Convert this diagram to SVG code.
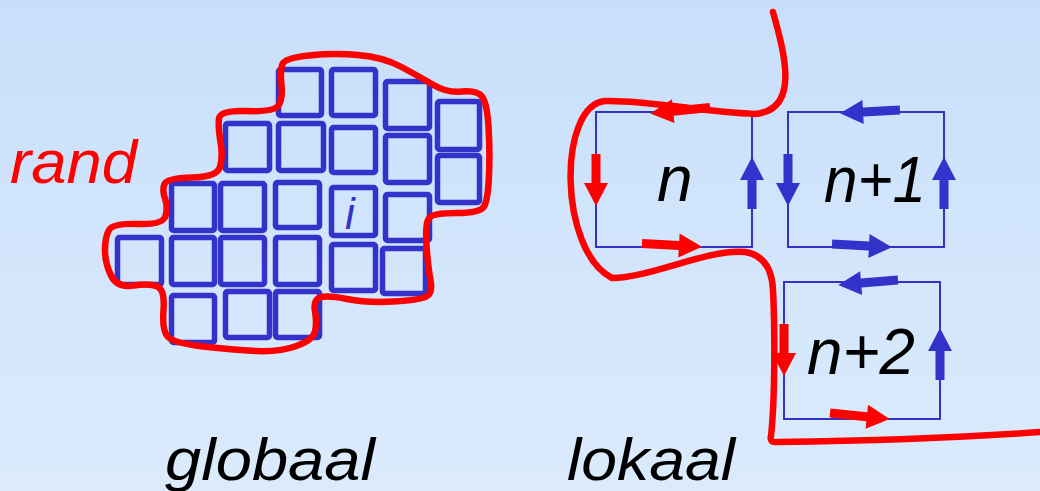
<svg xmlns="http://www.w3.org/2000/svg" xmlns:xlink="http://www.w3.org/1999/xlink" width="1040" height="491" viewBox="0 0 1040 491">
<defs>
<linearGradient id="bg" x1="0" y1="0" x2="0" y2="1">
<stop offset="0" stop-color="#c8dffb"/>
<stop offset="1" stop-color="#dbebfc"/>
</linearGradient>
<path id="ah" d="M0,-4.5 H37 V-12 L60,0 L37,12 V4.5 H0 Z"/>
<path id="av" d="M0,-4.5 H29 V-12 L52,0 L29,12 V4.5 H0 Z"/>
<style>
.sq{fill:none;stroke:#3333cc;stroke-width:5.5;}
.box{fill:none;stroke:#3333cc;stroke-width:2;}
.red{fill:none;stroke:#ff0000;stroke-width:6.5;stroke-linecap:round;stroke-linejoin:round;}
.ar{fill:#ff0000;}
.ab{fill:#3333cc;}
.t{font-family:"Liberation Sans",Arial,sans-serif;font-style:italic;}
</style>
</defs>
<rect width="1040" height="491" fill="url(#bg)"/>

<g id="grid">
<rect class="sq" x="278.5" y="69.5" width="43" height="46" rx="2"/>
<rect class="sq" x="331.5" y="69.5" width="44" height="46" rx="2"/>
<rect class="sq" x="385.5" y="81.5" width="44" height="47" rx="2"/>
<rect class="sq" x="437.5" y="101.5" width="42" height="48" rx="2"/>
<rect class="sq" x="225.5" y="123.5" width="44" height="47" rx="2"/>
<rect class="sq" x="278.5" y="123.5" width="45" height="47" rx="2"/>
<rect class="sq" x="331.5" y="127.5" width="44" height="45" rx="2"/>
<rect class="sq" x="385.5" y="135.5" width="44" height="47" rx="2"/>
<rect class="sq" x="437.5" y="155.5" width="42" height="47" rx="2"/>
<rect class="sq" x="171.5" y="183.5" width="43" height="47" rx="2"/>
<rect class="sq" x="220.5" y="183.5" width="44" height="47" rx="2"/>
<rect class="sq" x="275.5" y="182.5" width="44" height="45" rx="2"/>
<rect class="sq" x="331.5" y="187.5" width="44" height="48" rx="2"/>
<rect class="sq" x="385.5" y="194.5" width="44" height="46" rx="2"/>
<rect class="sq" x="117.5" y="237.5" width="44" height="47" rx="2"/>
<rect class="sq" x="171.5" y="237.5" width="43" height="47" rx="2"/>
<rect class="sq" x="220.5" y="237.5" width="44" height="47" rx="2"/>
<rect class="sq" x="275.5" y="237.5" width="44" height="47" rx="2"/>
<rect class="sq" x="331.5" y="244.5" width="44" height="46" rx="2"/>
<rect class="sq" x="382.5" y="248.5" width="43" height="45" rx="2"/>
<rect class="sq" x="171.5" y="295.5" width="43" height="47" rx="2"/>
<rect class="sq" x="225.5" y="291.5" width="44" height="46" rx="2"/>
<rect class="sq" x="275.5" y="291.5" width="44" height="46" rx="2"/>
<text class="t" x="345" y="229" font-size="44" fill="#3333cc">i</text>
</g>

<g id="box-n">
<rect class="box" x="596" y="112" width="156" height="135"/>
<text class="t" x="657" y="201" font-size="64" fill="#000">n</text>
</g>
<g id="box-n1">
<rect class="box" x="788" y="112" width="156" height="135"/>
<text class="t" x="824" y="202" font-size="64" fill="#000" textLength="102" lengthAdjust="spacingAndGlyphs">n+1</text>
</g>
<g id="box-n2">
<rect class="box" x="784" y="282" width="156" height="137"/>
<text class="t" x="807" y="374" font-size="64" fill="#000" textLength="108" lengthAdjust="spacingAndGlyphs">n+2</text>
</g>

<g id="connectors">
<path id="rand-curve" class="red" d="M282.5,64 Q285,58 309,55.5 Q333,53 358,55 Q383,57 401.5,67 Q420,77 433.5,85 Q447,93 462,91.5 Q477,90 482,96.5 Q487,103 488.5,126.5 Q490,150 489,175 Q488,200 484,206.5 Q480,213 456.5,213 Q433,213 429,218 Q425,223 426.5,245 Q428,267 430.5,280 Q433,293 426.5,296.5 Q420,300 393.5,301.5 Q367,303 347,299 Q327,295 320,297.5 Q313,300 315,311.5 Q317,323 315,331.5 Q313,340 296.5,346 Q280,352 256.5,351 Q233,350 203,346.5 Q173,343 167.5,336.5 Q162,330 163.5,310 Q165,290 157.5,286.5 Q150,283 133.5,285.5 Q117,288 111,275.5 Q105,263 105,250 Q105,237 109,230 Q113,223 138,224 Q163,225 165.5,216 Q168,207 165,198.5 Q162,190 164.5,184 Q167,178 192,177.5 Q217,177 220,167 Q223,157 220.5,142 Q218,127 219,118.5 Q220,110 246.5,111 Q273,112 278,106 Q283,100 281.5,85 Q280,70 282.5,64 Z"/>
<path id="lokaal-curve" class="red" d="M773,12 C785,55 800,110 755,114 C700,112 650,100 605,101 C558,105 558,250 612,278 C650,278 710,248 745,252 C765,255 772,270 773,290 C775,330 775,400 771,436 Q769,443 778,442 Q930,440 1040,432"/>
<use href="#ah" class="ar" transform="translate(710,107.5) rotate(174.3)"/>
<use href="#av" class="ar" transform="translate(596,154) rotate(90)"/>
<use href="#ah" class="ar" transform="translate(642,243.5) rotate(3.2)"/>
<use href="#av" class="ab" transform="translate(752,209) rotate(-90)"/>
<use href="#ah" class="ab" transform="translate(900,110) rotate(177)"/>
<use href="#av" class="ab" transform="translate(788,154) rotate(90)"/>
<use href="#ah" class="ab" transform="translate(832,244) rotate(3)"/>
<use href="#av" class="ab" transform="translate(944,209) rotate(-90)"/>
<use href="#ah" class="ab" transform="translate(898,280) rotate(175.2)"/>
<use href="#av" class="ar" transform="translate(784,324) rotate(90)"/>
<use href="#ah" class="ar" transform="translate(830,413) rotate(5.8)"/>
<use href="#av" class="ab" transform="translate(940,380) rotate(-90)"/>
</g>

<g id="labels">
<text class="t" x="10" y="183" font-size="62" fill="#ff0000" textLength="127" lengthAdjust="spacingAndGlyphs">rand</text>
<text class="t" x="165" y="480" font-size="60" fill="#000" textLength="210" lengthAdjust="spacingAndGlyphs">globaal</text>
<text class="t" x="567" y="480" font-size="60" fill="#000" textLength="168" lengthAdjust="spacingAndGlyphs">lokaal</text>
</g>
</svg>
